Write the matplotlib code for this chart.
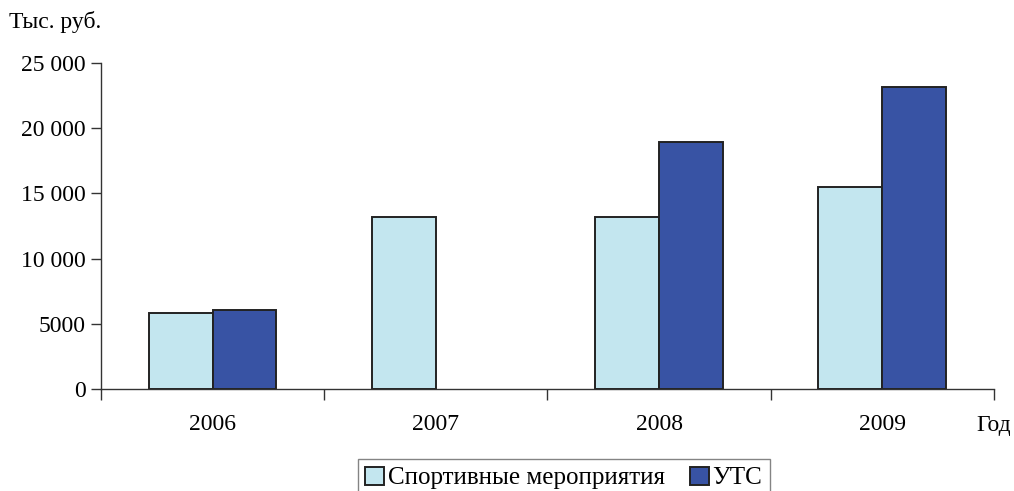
import numpy as np
import matplotlib.pyplot as plt

plt.rcParams['font.family'] = ['Liberation Serif', 'DejaVu Serif']

# Data
years = ['2006', '2007', '2008', '2009']
sport_events = [5800, 13200, 13200, 15500]
uts = [6050, 0, 18950, 23150]
y_ticks = [0, 5000, 10000, 15000, 20000, 25000]
y_tick_labels = ['0', '5000', '10 000', '15 000', '20 000', '25 000']

light = '#c3e6ef'
dark = '#3853a4'
axis_col = '#333333'

fig = plt.figure(figsize=(10.14, 4.91), dpi=100)
ax = fig.add_axes([0.0996, 0.2077, 0.8806, 0.664])

x = np.arange(len(years))
w = 0.286
b1 = ax.bar(x - w / 2, sport_events, w, color=light, edgecolor='#222222', linewidth=1.4,
            label='Спортивные мероприятия')
b2 = ax.bar(x + w / 2, uts, w, color=dark, edgecolor='#222222', linewidth=1.4, label='УТС')
# hide zero-height bar outline
for r, v in zip(b2, uts):
    if v == 0:
        r.set_visible(False)

ax.set_xlim(-0.5, len(years) - 0.5)
ax.set_ylim(0, 25000)
ax.set_yticks(y_ticks)
ax.set_yticklabels(y_tick_labels)
ax.set_xticks(x)
ax.set_xticklabels(years)
ax.set_xticks(np.arange(-0.5, len(years)), minor=True)
ax.tick_params(axis='x', which='major', length=0, pad=18, labelsize=17)
ax.tick_params(axis='x', which='minor', length=8, color=axis_col, width=1)
ax.tick_params(axis='y', length=7, color=axis_col, width=1, labelsize=17, pad=4)

for s in ['top', 'right']:
    ax.spines[s].set_visible(False)
for s in ['left', 'bottom']:
    ax.spines[s].set_color(axis_col)
    ax.spines[s].set_linewidth(1)

fig.text(0.009, 0.955, 'Тыс. руб.', fontsize=17, ha='left', va='center')
fig.text(0.963, 0.134, 'Год', fontsize=17, ha='left', va='center')

leg = fig.legend(handles=[b1, b2], loc='lower center', bbox_to_anchor=(0.556, -0.012), ncol=2,
                 fontsize=18, frameon=True, fancybox=False, edgecolor='#666666',
                 handlelength=0.75, handleheight=0.75, handletextpad=0.15, columnspacing=1.0,
                 borderpad=0.3, borderaxespad=0)
leg.get_frame().set_linewidth(1)

fig.savefig('out.png', dpi=100)
